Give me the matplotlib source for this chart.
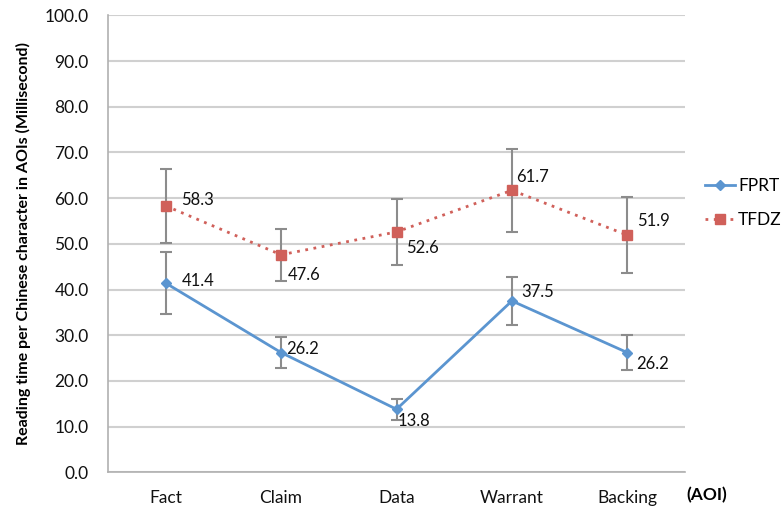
import numpy as np
import matplotlib.pyplot as plt

plt.rcParams['font.family'] = ['Lato', 'DejaVu Sans']

# data
aois = ['Fact', 'Claim', 'Data', 'Warrant', 'Backing']
fprt = [41.4, 26.2, 13.8, 37.5, 26.2]
fprt_err = [6.8, 3.4, 2.3, 5.2, 3.9]
tfdz = [58.3, 47.6, 52.6, 61.7, 51.9]
tfdz_err = [8.1, 5.7, 7.3, 9.1, 8.3]
yticks = np.arange(0, 101, 10)

# label offsets in pixels (dx, dy)
fprt_off = [(16, 2), (5, 4), (1, -12), (9, 9), (9, -11)]
tfdz_off = [(15, 6), (7, -20), (10, -16), (4, 13), (10, 14)]

blue = '#5b95d0'
red = '#d0605a'
grey = '#8c8c8c'
fs = 12.5

fig = plt.figure(figsize=(7.81, 5.11), dpi=100)
ax = fig.add_axes([108 / 781, 1 - 472.3 / 511, 577 / 781, 457 / 511])

x = np.arange(len(aois))

ax.errorbar(x, fprt, yerr=fprt_err, fmt='none', ecolor=grey, elinewidth=1.5,
            capsize=4, capthick=1.5, zorder=2)
ax.errorbar(x, tfdz, yerr=tfdz_err, fmt='none', ecolor=grey, elinewidth=1.5,
            capsize=4, capthick=1.5, zorder=2)
l1, = ax.plot(x, fprt, color=blue, lw=2, marker='D', ms=5, label='FPRT', zorder=3)
l2, = ax.plot(x, tfdz, color=red, lw=2, ls=(0, (1, 2)), marker='s', ms=7,
              label='TFDZ', zorder=3)

for xi, v, (dx, dy) in zip(x, fprt, fprt_off):
    ax.annotate(f'{v:.1f}', (xi, v), xytext=(dx, dy), textcoords='offset pixels',
                ha='left', va='center', fontsize=fs - 0.5, color='#111111')
for xi, v, (dx, dy) in zip(x, tfdz, tfdz_off):
    ax.annotate(f'{v:.1f}', (xi, v), xytext=(dx, dy), textcoords='offset pixels',
                ha='left', va='center', fontsize=fs - 0.5, color='#111111')

ax.set_xlim(-0.5, len(aois) - 0.5)
ax.set_ylim(0, 100)
ax.set_yticks(yticks)
ax.set_yticklabels([f'{t:.1f}' for t in yticks])
ax.set_xticks(x)
ax.set_xticklabels(aois)
ax.tick_params(axis='both', length=0, labelsize=fs, colors='#111111')
ax.tick_params(axis='x', pad=13)
ax.tick_params(axis='y', pad=14)
ax.grid(axis='y', color='#d0d0d0', lw=1.5)
ax.set_axisbelow(True)
for s in ['top', 'right']:
    ax.spines[s].set_visible(False)
for s in ['left', 'bottom']:
    ax.spines[s].set_color('#b0b0b0')
    ax.spines[s].set_linewidth(1.2)

ax.set_ylabel('Reading time per Chinese character in AOIs (Millisecond)',
              fontsize=11.5, fontweight='bold', labelpad=10)
fig.text(686 / 781, 1 - 495 / 511, '(AOI)', fontsize=fs, fontweight='bold',
         ha='left', va='center')

fig.legend(handles=[l1, l2], loc='center left',
           bbox_to_anchor=(705 / 781, 1 - 203 / 511), frameon=False,
           fontsize=fs, handlelength=1.7, labelspacing=1.0, handletextpad=0.2,
           borderpad=0, borderaxespad=0)

fig.savefig('out.png', dpi=100)
